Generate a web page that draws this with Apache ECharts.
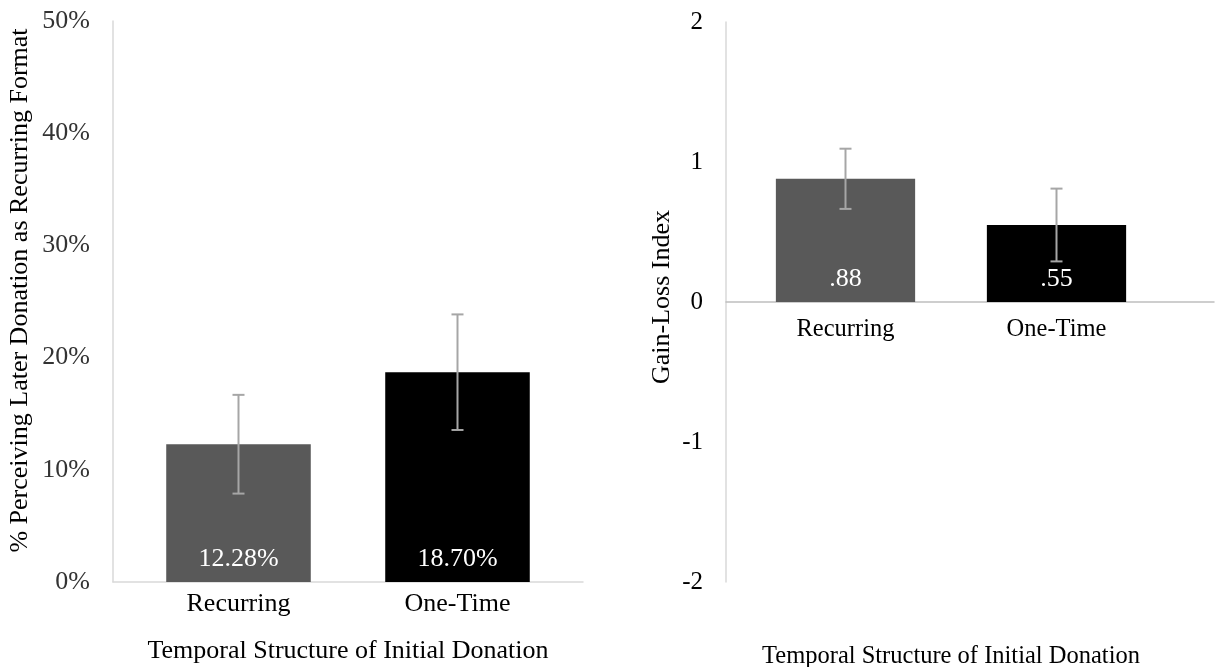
<!DOCTYPE html>
<html>
<head>
<meta charset="utf-8">
<script src="https://cdn.jsdelivr.net/npm/echarts@6/dist/echarts.min.js"></script>
<style>
html,body{margin:0;padding:0;background:#fff;}
#chart{width:1219px;height:667px;}
</style>
</head>
<body>
<div id="chart"></div>
<script>
const categories = ['Recurring', 'One-Time'];
const leftValues = [0.1228, 0.1870];
const leftErrors = [0.044, 0.0515];
const rightValues = [0.88, 0.55];
const rightErrors = [0.215, 0.26];
const barColors = ['#595959', '#000000'];
const leftTitleY = '% Perceiving Later Donation as Recurring Format';
const rightTitleY = 'Gain-Loss Index';
const titleX = 'Temporal Structure of Initial Donation';

const FONT = '"Liberation Serif", "Times New Roman", serif';
const ERR_COLOR = '#a6a6a6';

function errData(vals, errs) {
  return vals.map((v, i) => [i, v - errs[i], v + errs[i]]);
}
function errRender(params, api) {
  const x = api.value(0);
  const lo = api.coord([x, api.value(1)]);
  const hi = api.coord([x, api.value(2)]);
  const h = 6;
  const st = {stroke: ERR_COLOR, lineWidth: 2};
  return {type: 'group', children: [
    {type: 'line', shape: {x1: lo[0], y1: lo[1], x2: hi[0], y2: hi[1]}, style: st},
    {type: 'line', shape: {x1: lo[0] - h, y1: lo[1], x2: lo[0] + h, y2: lo[1]}, style: st},
    {type: 'line', shape: {x1: hi[0] - h, y1: hi[1], x2: hi[0] + h, y2: hi[1]}, style: st}
  ]};
}
function barData(vals) {
  return vals.map((v, i) => ({value: v, itemStyle: {color: barColors[i]}}));
}
const hiddenY = {axisLine: {show: false}, axisTick: {show: false}, axisLabel: {show: false}, splitLine: {show: false}};

const chart = echarts.init(document.getElementById('chart'));
chart.setOption({
  animation: false,
  backgroundColor: '#ffffff',
  textStyle: {fontFamily: FONT},
  grid: [
    {left: 113, width: 470, top: 21, bottom: 85, outerBoundsMode: 'none', containLabel: false},
    {left: 129, width: 438, top: 21, bottom: 85, outerBoundsMode: 'none', containLabel: false},
    {left: 726, width: 488, top: 22, bottom: 85, outerBoundsMode: 'none', containLabel: false},
    {left: 740, width: 422, top: 22, bottom: 85, outerBoundsMode: 'none', containLabel: false}
  ],
  xAxis: [
    {type: 'category', gridIndex: 0, data: categories,
     axisLine: {show: true, lineStyle: {color: '#d9d9d9', width: 1.5}},
     axisTick: {show: false}, axisLabel: {show: false}},
    {type: 'category', gridIndex: 1, data: categories,
     axisLine: {show: false}, axisTick: {show: false},
     axisLabel: {fontFamily: FONT, fontSize: 26, color: '#000', margin: 9},
     name: titleX, nameLocation: 'middle', nameGap: 56,
     nameTextStyle: {fontFamily: FONT, fontSize: 26, color: '#000'}},
    {type: 'category', gridIndex: 2, data: categories,
     axisLine: {show: true, onZero: true, lineStyle: {color: '#bfbfbf', width: 1.5}},
     axisTick: {show: false}, axisLabel: {show: false}},
    {type: 'category', gridIndex: 3, data: categories, position: 'bottom', offset: -280,
     axisLine: {show: false, onZero: false},
     axisTick: {show: false},
     axisLabel: {fontFamily: FONT, fontSize: 24.5, color: '#000', margin: 15},
     name: titleX, nameLocation: 'middle', nameGap: 342,
     nameTextStyle: {fontFamily: FONT, fontSize: 24.5, color: '#000'}}
  ],
  yAxis: [
    {type: 'value', gridIndex: 0, min: 0, max: 0.5, interval: 0.1,
     axisLine: {show: true, lineStyle: {color: '#d9d9d9', width: 1.5}},
     axisTick: {show: false}, splitLine: {show: false},
     axisLabel: {fontFamily: FONT, fontSize: 26, color: '#333333', margin: 23,
       formatter: v => Math.round(v * 100) + '%'},
     name: leftTitleY, nameLocation: 'middle', nameGap: 80,
     nameTextStyle: {fontFamily: FONT, fontSize: 26, color: '#000', padding: [0, 0, 0, 22]}},
    Object.assign({type: 'value', gridIndex: 1, min: 0, max: 0.5, interval: 0.1}, hiddenY),
    {type: 'value', gridIndex: 2, min: -2, max: 2, interval: 1,
     axisLine: {show: true, lineStyle: {color: '#d9d9d9', width: 1.5}},
     axisTick: {show: false}, splitLine: {show: false},
     axisLabel: {fontFamily: FONT, fontSize: 25, color: '#000', margin: 23},
     name: rightTitleY, nameLocation: 'middle', nameGap: 51,
     nameTextStyle: {fontFamily: FONT, fontSize: 26, color: '#000', padding: [0, 0, 0, 10]}},
    Object.assign({type: 'value', gridIndex: 3, min: -2, max: 2, interval: 1}, hiddenY)
  ],
  series: [
    {type: 'bar', xAxisIndex: 1, yAxisIndex: 1, barWidth: '66%',
     data: barData(leftValues),
     label: {show: true, position: 'insideBottom', distance: 10, color: '#fff',
       fontFamily: FONT, fontSize: 26,
       formatter: p => (p.value * 100).toFixed(2) + '%'}},
    {type: 'custom', xAxisIndex: 1, yAxisIndex: 1, renderItem: errRender,
     data: errData(leftValues, leftErrors), z: 5},
    {type: 'bar', xAxisIndex: 3, yAxisIndex: 3, barWidth: '66%',
     data: barData(rightValues),
     label: {show: true, position: 'insideBottom', distance: 10, color: '#fff',
       fontFamily: FONT, fontSize: 26,
       formatter: p => p.value.toFixed(2).replace(/^0/, '')}},
    {type: 'custom', xAxisIndex: 3, yAxisIndex: 3, renderItem: errRender,
     data: errData(rightValues, rightErrors), z: 5}
  ]
});
</script>
</body>
</html>
